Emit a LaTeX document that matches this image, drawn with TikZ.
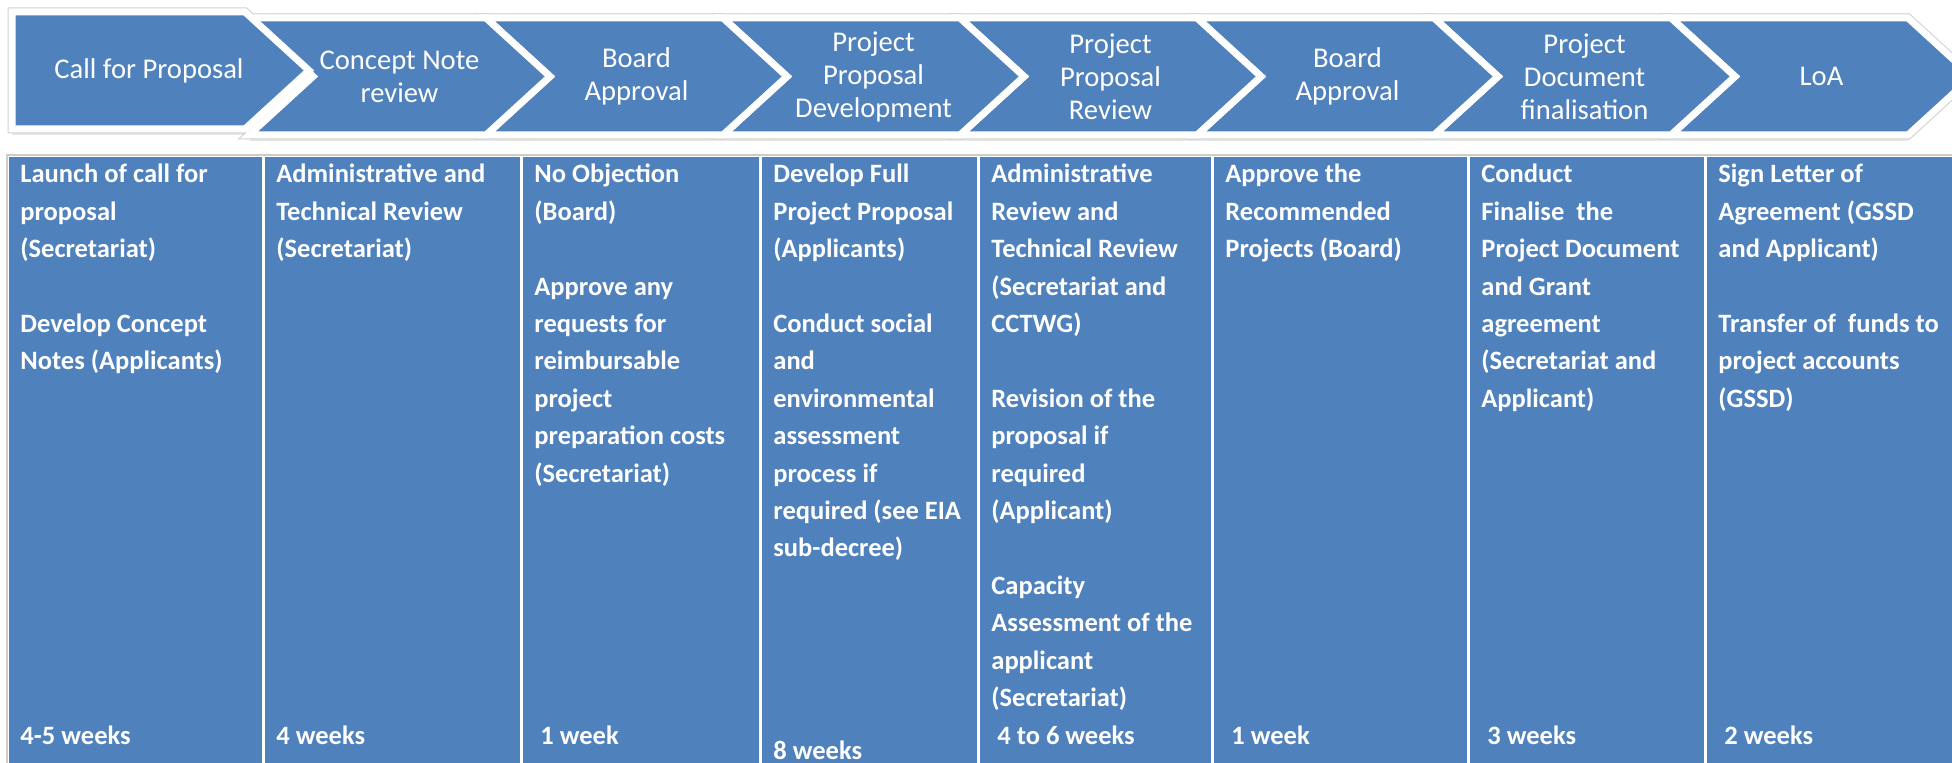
\documentclass[tikz,border=0pt]{standalone}
\usepackage{fontspec}
\setmainfont{Carlito}
\usetikzlibrary{shadows}
\definecolor{stepblue}{RGB}{79,129,189}

\begin{document}
\begin{tikzpicture}[x=0.5pt,y=0.5pt,yscale=-1,xscale=1,
  chevrim/.style={draw=black!18,line width=4.5pt,line join=miter,drop shadow={shadow xshift=0pt,shadow yshift=-3pt,opacity=0.18}},
  chev/.style={fill=stepblue,draw=white,line width=3.5pt,line join=miter},
  phase/.style={text=white,align=center,inner sep=0pt,font=\fontsize{14.3pt}{16.5pt}\selectfont},
  task/.style={anchor=base west,text=white,inner sep=0pt,font=\bfseries\fontsize{13.25pt}{18.7pt}\selectfont},
]
\clip (0,0) rectangle (1952,763);
\fill[white] (0,0) rectangle (1952,763);
% chevron strip
\foreach \k in {7,6,...,1}{
  \pgfmathsetmacro\ta{313+237*(\k-1)}
  \pgfmathsetmacro\tb{313+237*\k}
  \path[chevrim] (\ta-64,18) -- (\tb-64,18) -- (\tb,76.5) -- (\tb-64,135) -- (\ta-64,135) -- (\ta,76.5) -- cycle;
}
\path[chevrim] (12,12) -- (245,12) -- (309,70.5) -- (245,129) -- (12,129) -- cycle;
\foreach \k in {7,6,...,1}{
  \pgfmathsetmacro\ta{313+237*(\k-1)}
  \pgfmathsetmacro\tb{313+237*\k}
  \path[chev] (\ta-64,18) -- (\tb-64,18) -- (\tb,76.5) -- (\tb-64,135) -- (\ta-64,135) -- (\ta,76.5) -- cycle;
}
\path[chev] (12,12) -- (245,12) -- (309,70.5) -- (245,129) -- (12,129) -- cycle;
% Text Node
\draw (149,71) node (p1) [phase] {Call for Proposal};
\draw (399.5,76.5) node (p2) [phase] {Concept Note\\review};
\draw (636.5,76.5) node (p3) [phase] {Board\\Approval};
\draw (873.5,76.5) node (p4) [phase] {Project\\Proposal\\Development};
\draw (1110.5,76.5) node (p5) [phase] {Project\\Proposal\\Review};
\draw (1347.5,76.5) node (p6) [phase] {Board\\Approval};
\draw (1584.5,76.5) node (p7) [phase] {Project\\Document\\finalisation};
\draw (1821.5,76.5) node (p8) [phase] {LoA};

% table
\draw[black!20,line width=0.75pt] (7,770) -- (7,155) -- (1960,155);
\foreach \a/\b in {9/261.5,264.5/519.5,522.5/758.5,761.5/976.5,979.5/1210.5,1213.5/1466.5,1469.5/1703.5,1706.5/1960}
  \fill[stepblue] (\a,157) rectangle (\b,770);

% Text Node
\draw (20,183) node (c1) [task] {\parbox[t]{120pt}{\raggedright Launch of call for\\proposal\\(Secretariat)\\[\baselineskip]Develop Concept\\Notes (Applicants)}};
% Text Node
\draw (276,183) node (c2) [task] {\parbox[t]{120pt}{\raggedright Administrative and\\Technical Review\\(Secretariat)}};
% Text Node
\draw (534,183) node (c3) [task] {\parbox[t]{112pt}{\raggedright No Objection\\(Board)\\[\baselineskip]Approve any\\requests for\\reimbursable\\project\\preparation costs\\(Secretariat)}};
% Text Node
\draw (773,183) node (c4) [task] {\parbox[t]{104pt}{\raggedright Develop Full\\Project Proposal\\(Applicants)\\[\baselineskip]Conduct social\\and\\environmental\\assessment\\process if\\required (see EIA\\sub-decree)}};
% Text Node
\draw (991,183) node (c5) [task] {\parbox[t]{112pt}{\raggedright Administrative\\Review and\\Technical Review\\(Secretariat and\\CCTWG)\\[\baselineskip]Revision of the\\proposal if\\required\\(Applicant)\\[\baselineskip]Capacity\\Assessment of the\\applicant\\(Secretariat)}};
% Text Node
\draw (1225,183) node (c6) [task] {\parbox[t]{120pt}{\raggedright Approve the\\Recommended\\Projects (Board)}};
% Text Node
\draw (1481,183) node (c7) [task] {\parbox[t]{112pt}{\raggedright Conduct\\Finalise\ \ the\\Project Document\\and Grant\\agreement\\(Secretariat and\\Applicant)}};
% Text Node
\draw (1718,183) node (c8) [task] {\parbox[t]{118pt}{\raggedright Sign Letter of\\Agreement (GSSD\\and Applicant)\\[\baselineskip]Transfer of\ \ funds to\\project accounts\\(GSSD)}};

% Text Node
\draw (20,744) node (w1) [task] {4-5 weeks};
\draw (276,744) node (w2) [task] {4 weeks};
\draw (534,744) node (w3) [task] {\ 1 week};
\draw (773,759) node (w4) [task] {8 weeks};
\draw (991,744) node (w5) [task] {\ 4 to 6 weeks};
\draw (1225,744) node (w6) [task] {\ 1 week};
\draw (1481,744) node (w7) [task] {\ 3 weeks};
\draw (1718,744) node (w8) [task] {\ 2 weeks};
\end{tikzpicture}
\end{document}
